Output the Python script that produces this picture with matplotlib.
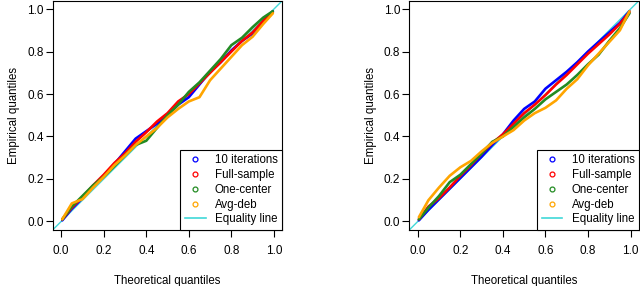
import matplotlib
matplotlib.use("Agg")
import matplotlib.pyplot as plt
from matplotlib.lines import Line2D

plt.rcParams['font.family'] = ['Liberation Sans', 'DejaVu Sans']
plt.rcParams['font.size'] = 8

# theoretical quantiles (x) shared by all series
theo = [0.005, 0.05, 0.10, 0.15, 0.20, 0.25, 0.30, 0.35, 0.40, 0.45, 0.50,
        0.55, 0.60, 0.65, 0.70, 0.75, 0.80, 0.85, 0.90, 0.95, 0.995]

labels = ["10 iterations", "Full-sample", "One-center", "Avg-deb"]
colors = ["#0000ff", "#ff0000", "#228b22", "#ffa500"]

# left panel empirical quantiles
left_iter = [0.005, 0.06, 0.11, 0.165, 0.215, 0.27, 0.33, 0.39, 0.425, 0.46, 0.50,
             0.55, 0.585, 0.645, 0.705, 0.75, 0.805, 0.85, 0.885, 0.94, 0.99]
left_full = [0.01, 0.065, 0.115, 0.17, 0.22, 0.275, 0.32, 0.375, 0.42, 0.47, 0.51,
             0.565, 0.60, 0.65, 0.70, 0.75, 0.80, 0.85, 0.89, 0.945, 0.985]
left_one = [0.01, 0.07, 0.12, 0.17, 0.21, 0.26, 0.31, 0.36, 0.38, 0.44, 0.50,
            0.55, 0.61, 0.655, 0.71, 0.765, 0.83, 0.865, 0.915, 0.96, 0.99]
left_avg = [0.01, 0.085, 0.105, 0.16, 0.21, 0.265, 0.31, 0.36, 0.40, 0.44, 0.49,
            0.53, 0.565, 0.585, 0.665, 0.72, 0.775, 0.83, 0.87, 0.93, 0.98]

# right panel empirical quantiles
right_iter = [0.005, 0.055, 0.105, 0.155, 0.205, 0.255, 0.305, 0.36, 0.41, 0.475, 0.53,
              0.565, 0.625, 0.665, 0.705, 0.75, 0.80, 0.845, 0.89, 0.935, 0.99]
right_full = [0.01, 0.07, 0.11, 0.16, 0.215, 0.265, 0.32, 0.37, 0.41, 0.46, 0.51,
              0.55, 0.595, 0.645, 0.69, 0.74, 0.79, 0.835, 0.88, 0.93, 0.985]
right_one = [0.01, 0.065, 0.12, 0.185, 0.22, 0.27, 0.32, 0.375, 0.40, 0.445, 0.49,
             0.53, 0.575, 0.61, 0.645, 0.69, 0.74, 0.785, 0.85, 0.91, 0.98]
right_avg = [0.02, 0.10, 0.16, 0.215, 0.255, 0.285, 0.33, 0.37, 0.40, 0.43, 0.475,
             0.51, 0.535, 0.57, 0.625, 0.67, 0.735, 0.79, 0.845, 0.90, 0.99]

ticks = [0.0, 0.2, 0.4, 0.6, 0.8, 1.0]
tick_labels = ["0.0", "0.2", "0.4", "0.6", "0.8", "1.0"]
eq_color = "#40d8d8"

fig = plt.figure(figsize=(6.4, 2.86), dpi=100)
ax1 = fig.add_axes([0.0823, 0.196, 0.359, 0.802])
ax2 = fig.add_axes([0.6395, 0.196, 0.359, 0.802])


def panel(ax, series):
    ax.plot([-0.04, 1.04], [-0.04, 1.04], color=eq_color, lw=1.0, zorder=1)
    for ys, c in zip(series, colors):
        ax.plot(theo, ys, color=c, lw=1.9, solid_capstyle="round", zorder=2)
    ax.set_xlim(-0.04, 1.04)
    ax.set_ylim(-0.04, 1.04)
    ax.set_xticks(ticks)
    ax.set_xticklabels(tick_labels)
    ax.set_yticks(ticks)
    ax.set_yticklabels(tick_labels)
    ax.tick_params(direction="out", length=5, width=0.8, pad=5.5, labelsize=8.5)
    ax.tick_params(axis="y", pad=1.5)
    for s in ax.spines.values():
        s.set_linewidth(0.8)
    ax.set_xlabel("Theoretical quantiles", fontsize=8.3, labelpad=13)
    ax.set_ylabel("Empirical quantiles", fontsize=8.3, labelpad=5)

    handles = [Line2D([], [], ls="none", marker="o", ms=3.5, mfc="none",
                      mec=c, mew=0.9) for c in colors]
    handles.append(Line2D([], [], color=eq_color, lw=1.2))
    leg = ax.legend(handles, labels + ["Equality line"], loc="lower right",
                    bbox_to_anchor=(1.0, 0.0), borderaxespad=0.0, fancybox=False,
                    framealpha=1, edgecolor="black", fontsize=8.3,
                    handlelength=1.8, handletextpad=0.8, labelspacing=0.24,
                    borderpad=0.4)
    leg.get_frame().set_linewidth(0.8)


panel(ax1, [left_iter, left_full, left_one, left_avg])
panel(ax2, [right_iter, right_full, right_one, right_avg])

fig.savefig("out.png", dpi=100)
